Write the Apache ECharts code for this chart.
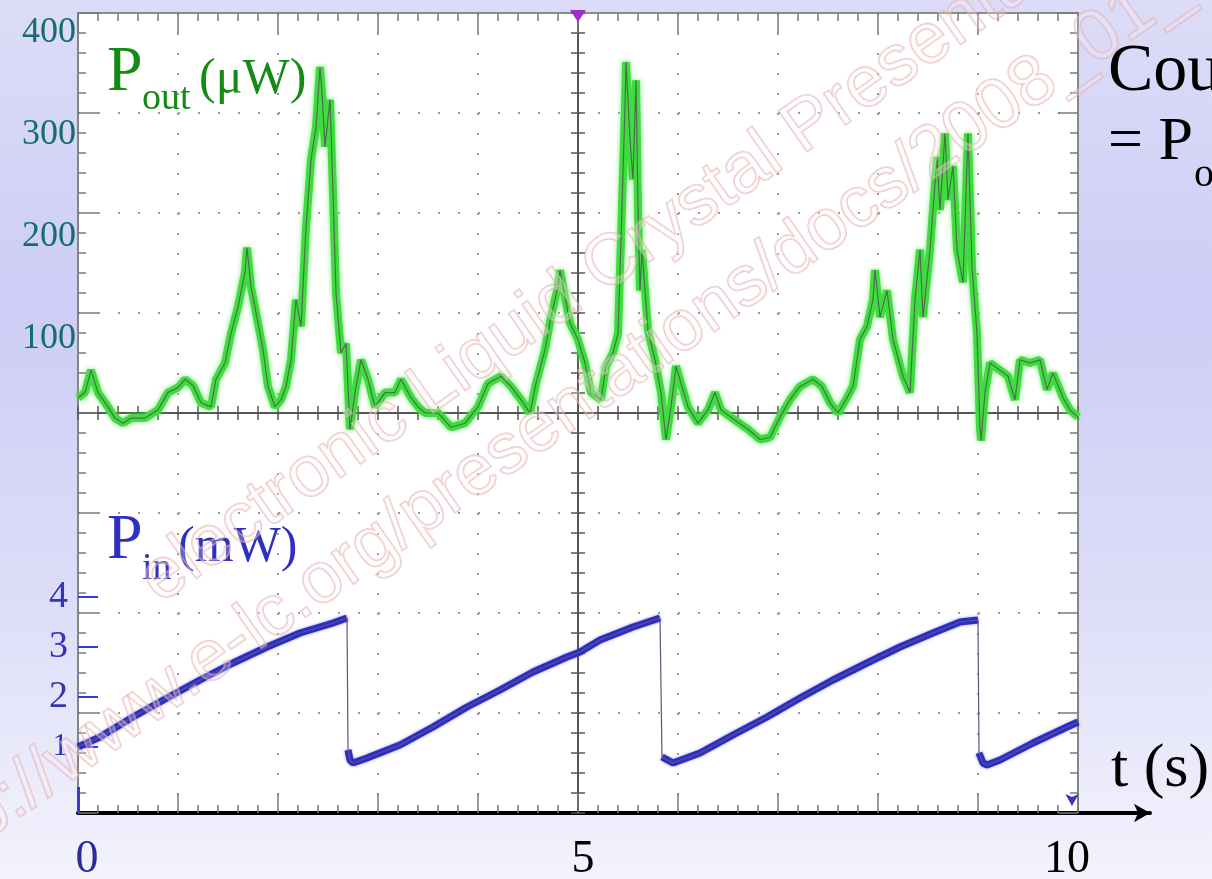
<!DOCTYPE html>
<html>
<head>
<meta charset="utf-8">
<script src="https://cdn.jsdelivr.net/npm/echarts@6/dist/echarts.min.js"></script>
<style>
  html, body { margin: 0; padding: 0; }
  #chart { width: 1212px; height: 879px; }
</style>
</head>
<body>
<div id="chart"></div>
<script>
// Output power trace: [time (s), power (µW)]
const outputTrace = [
  [0.00,42],[0.07,47],[0.13,69],[0.20,47],[0.30,33],[0.37,22],[0.45,17],[0.53,22],[0.67,22],[0.80,30],
  [0.90,47],[1.00,52],[1.07,60],[1.15,54],[1.23,37],[1.33,33],[1.38,60],[1.47,76],[1.53,105],[1.60,131],
  [1.67,165],[1.69,189],[1.73,151],[1.80,115],[1.85,89],[1.90,53],[1.97,33],[2.03,40],[2.08,53],[2.13,79],
  [2.18,138],[2.23,112],[2.28,209],[2.33,275],[2.38,307],[2.42,366],[2.44,341],[2.47,288],[2.52,334],[2.55,243],
  [2.58,145],[2.63,86],[2.68,95],[2.72,11],[2.77,47],[2.83,79],[2.90,60],[2.97,33],[3.07,47],[3.17,47],
  [3.23,60],[3.33,42],[3.40,33],[3.47,27],[3.60,27],[3.73,13],[3.87,17],[4.00,33],[4.10,56],[4.23,63],
  [4.33,53],[4.43,40],[4.52,27],[4.58,56],[4.67,89],[4.73,121],[4.80,151],[4.82,167],[4.87,141],[4.92,115],
  [5.00,99],[5.07,76],[5.13,47],[5.23,40],[5.28,73],[5.35,86],[5.40,105],[5.43,197],[5.47,327],[5.48,371],
  [5.52,295],[5.55,256],[5.58,353],[5.60,229],[5.62,147],[5.64,187],[5.70,108],[5.77,79],[5.83,47],[5.88,1],
  [5.93,33],[5.98,73],[6.03,56],[6.10,33],[6.20,17],[6.30,30],[6.37,47],[6.43,30],[6.57,20],[6.70,11],
  [6.82,1],[6.92,3],[7.02,23],[7.12,40],[7.22,53],[7.35,60],[7.44,53],[7.52,37],[7.60,27],[7.69,42],
  [7.75,53],[7.82,99],[7.89,112],[7.95,138],[7.97,167],[8.02,121],[8.09,147],[8.15,99],[8.25,63],[8.32,47],
  [8.37,138],[8.42,187],[8.45,121],[8.52,187],[8.57,252],[8.59,278],[8.62,226],[8.67,301],[8.70,236],[8.75,269],
  [8.79,187],[8.85,155],[8.90,301],[8.94,170],[8.99,105],[9.02,13],[9.03,0],[9.07,47],[9.12,76],[9.22,69],
  [9.30,63],[9.37,40],[9.42,79],[9.52,76],[9.62,79],[9.69,50],[9.75,66],[9.85,42],[9.92,30],[10.00,23]
];

// Input power trace: [time (s), power (mW)]
const inputTrace = [
  [0.00,1.00],[0.22,1.20],[0.55,1.60],[0.89,1.98],[1.22,2.34],[1.55,2.68],[1.89,3.00],[2.22,3.28],
  [2.55,3.48],[2.69,3.58],[2.70,0.94],[2.72,0.74],[2.75,0.68],[2.89,0.78],[3.22,1.04],[3.55,1.40],
  [3.89,1.80],[4.22,2.14],[4.55,2.50],[4.89,2.80],[5.02,2.90],[5.22,3.14],[5.55,3.40],[5.82,3.58],
  [5.84,0.80],[5.95,0.68],[6.22,0.88],[6.55,1.24],[6.89,1.60],[7.22,1.98],[7.55,2.34],[7.89,2.68],
  [8.22,3.00],[8.55,3.28],[8.82,3.50],[9.00,3.54],[9.01,0.88],[9.05,0.68],[9.09,0.64],[9.22,0.74],
  [9.55,1.08],[9.89,1.40],[10.00,1.50]
];

const outTickValues = [100, 200, 300, 400];
const inTickValues = [1, 2, 3, 4];
const timeTickValues = [0, 5, 10];

const SERIF = '"Liberation Serif", "Times New Roman", serif';
const SANS = '"Liberation Sans", Arial, sans-serif';

// The thick band breaks where the trace snaps back; the thin core stays continuous
function bandData(trace, jump) {
  const out = [];
  for (let i = 0; i < trace.length; i++) {
    if (i > 0 && Math.abs(trace[i][1] - trace[i - 1][1]) > jump) out.push([trace[i][0], null]);
    out.push(trace[i]);
  }
  return out;
}

// Scope graticule: border axes with major/minor ticks
function frameX(position, withGrid) {
  return {
    gridIndex: 0, type: 'value', position, min: -5, max: 5, interval: 1,
    axisLine: { onZero: false, lineStyle: { color: '#858f85', width: 2 } },
    axisTick: { inside: true, length: 20, lineStyle: { color: '#7a7a7a', width: 1.5 } },
    minorTick: { show: true, splitNumber: 5, length: 8, lineStyle: { color: '#7a7a7a', width: 1.5 } },
    axisLabel: { show: false },
    splitLine: withGrid
      ? { show: true, lineStyle: { color: '#9a9a9a', width: 2, type: [2, 18] } }
      : { show: false }
  };
}
function frameY(position, withGrid) {
  return {
    gridIndex: 0, type: 'value', position, min: -4, max: 4, interval: 1,
    axisLine: { onZero: false, lineStyle: { color: '#858585', width: 2 } },
    axisTick: { inside: true, length: 20, lineStyle: { color: '#7a7a7a', width: 1.5 } },
    minorTick: { show: true, splitNumber: 5, length: 8, lineStyle: { color: '#7a7a7a', width: 1.5 } },
    axisLabel: { show: false },
    splitLine: withGrid
      ? { show: true, lineStyle: { color: '#9a9a9a', width: 2, type: [2, 18] } }
      : { show: false }
  };
}
// Centre cross of the graticule, ticks on both sides
function centreX(inside) {
  return {
    gridIndex: 0, type: 'value', position: 'bottom', min: -5, max: 5, interval: 0.2,
    axisLine: { onZero: true, onZeroAxisIndex: 0, lineStyle: { color: '#555', width: 2 } },
    axisTick: { inside, length: 7, lineStyle: { color: '#555', width: 1.5 } },
    axisLabel: { show: false }, splitLine: { show: false }
  };
}
function centreY(inside) {
  return {
    gridIndex: 0, type: 'value', position: 'left', min: -4, max: 4, interval: 0.2,
    axisLine: { onZero: true, onZeroAxisIndex: 0, lineStyle: { color: '#555', width: 2 } },
    axisTick: { inside, length: 7, lineStyle: { color: '#555', width: 1.5 } },
    axisLabel: { show: false }, splitLine: { show: false }
  };
}

const chart = echarts.init(document.getElementById('chart'), null, { renderer: 'canvas' });

const watermarkStyle = {
  font: '72px ' + SANS,
  fill: 'rgba(255,248,248,0.25)',
  stroke: 'rgba(225,165,165,0.55)',
  lineWidth: 1.8,
  verticalAlign: 'middle'
};

const option = {
  animation: false,
  backgroundColor: {
    type: 'linear', x: 0, y: 0, x2: 0, y2: 1,
    colorStops: [
      { offset: 0, color: '#dcdcf8' },
      { offset: 0.35, color: '#cdcdf6' },
      { offset: 0.7, color: '#dedef9' },
      { offset: 1, color: '#f3f3fd' }
    ]
  },
  grid: [
    { left: 78, top: 13, width: 1000, height: 800, outerBoundsMode: 'none',
      show: true, backgroundColor: '#ffffff', borderWidth: 0 },
    { left: 78, top: 13, width: 1072, height: 800, outerBoundsMode: 'none' }
  ],
  xAxis: [
    frameX('bottom', true),
    frameX('top', false),
    centreX(true),
    centreX(false),
    { // time axis used by the traces
      gridIndex: 0, type: 'value', min: 0, max: 10, show: false, axisLine: { onZero: false }
    },
    { // time axis with arrow and labels
      gridIndex: 1, type: 'value', position: 'bottom', min: 0, max: 10.72,
      axisLine: { onZero: false, symbol: ['none', 'arrow'], symbolSize: [14, 16],
        lineStyle: { color: '#000', width: 4 } },
      axisTick: { show: false }, splitLine: { show: false },
      axisLabel: {
        customValues: timeTickValues, margin: 24,
        formatter: v => v === 0 ? '{z|0}' : (v === 10 ? '{t|10}' : '{m|' + v + '}'),
        rich: {
          z: { fontSize: 46, fontFamily: SERIF, color: '#2b2b9c', padding: [0, 0, 0, 18] },
          m: { fontSize: 46, fontFamily: SERIF, color: '#000', padding: [0, 0, 0, 10] },
          t: { fontSize: 46, fontFamily: SERIF, color: '#000', padding: [0, 22, 0, 0] }
        }
      }
    }
  ],
  yAxis: [
    frameY('left', true),
    frameY('right', false),
    centreY(true),
    centreY(false),
    { // output power scale (µW)
      gridIndex: 0, type: 'value', position: 'left', min: -365, max: 419,
      axisLine: { show: false, onZero: false }, axisTick: { show: false }, splitLine: { show: false },
      axisLabel: { customValues: outTickValues, color: '#176d6d', fontSize: 36, fontFamily: SERIF, margin: 2 }
    },
    { // input power scale (mW)
      gridIndex: 0, type: 'value', position: 'left', min: -0.32, max: 15.68,
      axisLine: { show: false, onZero: false }, splitLine: { show: false },
      axisTick: { show: true, inside: true, length: 20, customValues: inTickValues,
        lineStyle: { color: '#3a3ad0', width: 2 } },
      axisLabel: {
        customValues: inTickValues, margin: 10,
        formatter: v => v === 1 ? '{s|1}' : '{a|' + v + '}',
        rich: {
          a: { fontSize: 38, fontFamily: SERIF, color: '#3434b4' },
          s: { fontSize: 31, fontFamily: SERIF, color: '#3434b4' }
        }
      }
    },
    { gridIndex: 1, type: 'value', min: 0, max: 1, show: false }
  ],
  series: [
    { // output power glow band
      type: 'line', xAxisIndex: 4, yAxisIndex: 4, data: outputTrace, showSymbol: false, z: 3,
      lineStyle: { color: '#3fdc3f', width: 8, shadowBlur: 5, shadowColor: 'rgba(90,235,90,0.8)' },
      markPoint: {
        symbol: 'triangle', symbolSize: [16, 12], symbolRotate: 180, symbolOffset: [0, 3],
        itemStyle: { color: '#9a2fd0' }, label: { show: false },
        data: [{ coord: [5, 419] }]
      }
    },
    { // output power trace core
      type: 'line', xAxisIndex: 4, yAxisIndex: 4, data: outputTrace, showSymbol: false, z: 4,
      lineStyle: { color: '#4d6e4d', width: 1.2 }
    },
    { // input power band
      type: 'line', xAxisIndex: 4, yAxisIndex: 5, data: bandData(inputTrace, 1), showSymbol: false, z: 3,
      connectNulls: false,
      lineStyle: { color: '#2c2cc6', width: 7, shadowBlur: 3, shadowColor: 'rgba(60,60,220,0.6)' },
      markPoint: {
        symbol: 'arrow', symbolSize: [10, 12], symbolRotate: 180, symbolOffset: [0, -7],
        itemStyle: { color: '#3535c8' }, label: { show: false },
        data: [{ coord: [9.94, -0.32] }]
      },
      markLine: {
        symbol: 'none', silent: true, label: { show: false },
        lineStyle: { color: '#3a3ad0', width: 3, type: 'solid' },
        data: [[{ coord: [0, -0.32] }, { coord: [0, 0.2] }]]
      }
    },
    { // input power trace core
      type: 'line', xAxisIndex: 4, yAxisIndex: 5, data: inputTrace, showSymbol: false, z: 4,
      lineStyle: { color: '#5a5a78', width: 1.2 }
    }
  ],
  graphic: [
    // trace labels
    { type: 'text', x: 107, y: 73, z: 50, silent: true,
      style: { text: 'P', font: '64px ' + SERIF, fill: '#158a15', verticalAlign: 'middle' } },
    { type: 'text', x: 142, y: 99, z: 50, silent: true,
      style: { text: 'out', font: '38px ' + SERIF, fill: '#158a15', verticalAlign: 'middle' } },
    { type: 'text', x: 199, y: 80, z: 50, silent: true,
      style: { text: '(μW)', font: '50px ' + SERIF, fill: '#158a15', verticalAlign: 'middle' } },
    { type: 'text', x: 107, y: 541, z: 50, silent: true,
      style: { text: 'P', font: '64px ' + SERIF, fill: '#2f2fc2', verticalAlign: 'middle' } },
    { type: 'text', x: 142, y: 569, z: 50, silent: true,
      style: { text: 'in', font: '38px ' + SERIF, fill: '#2f2fc2', verticalAlign: 'middle' } },
    { type: 'text', x: 178, y: 548, z: 50, silent: true,
      style: { text: '(mW)', font: '50px ' + SERIF, fill: '#2f2fc2', verticalAlign: 'middle' } },
    // side text
    { type: 'text', x: 1108, y: 72, z: 50, silent: true,
      style: { text: 'Cou', font: '68px ' + SERIF, fill: '#000', verticalAlign: 'middle' } },
    { type: 'text', x: 1108, y: 143, z: 50, silent: true,
      style: { text: '= P', font: '62px ' + SERIF, fill: '#000', verticalAlign: 'middle' } },
    { type: 'text', x: 1194, y: 175, z: 50, silent: true,
      style: { text: 'o', font: '40px ' + SERIF, fill: '#000', verticalAlign: 'middle' } },
    { type: 'text', x: 1111, y: 770, z: 50, silent: true,
      style: { text: 't (s)', font: '62px ' + SERIF, fill: '#000', verticalAlign: 'middle' } },
    // site watermark
    { type: 'text', x: 148, y: 588, rotation: 0.61, z: 100, silent: true,
      style: Object.assign({ text: 'electronic Liquid Crystal Presentations' }, watermarkStyle) },
    { type: 'text', x: -95, y: 873, rotation: 0.61, z: 100, silent: true,
      style: Object.assign({ text: 'http://www.e-lc.org/presentations/docs/2008_01_' }, watermarkStyle) }
  ]
};

chart.setOption(option);
</script>
</body>
</html>
